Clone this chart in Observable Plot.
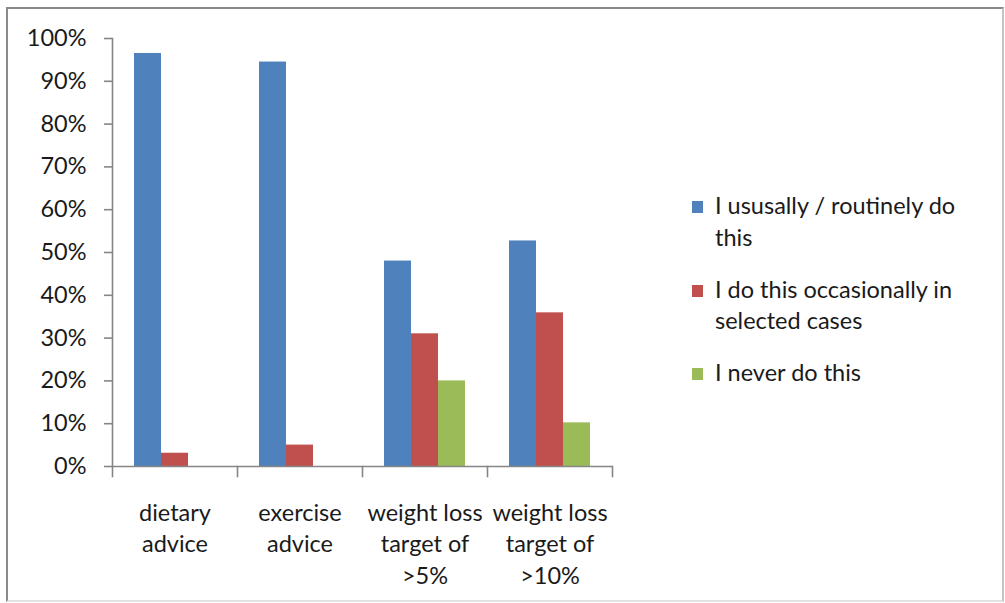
<!DOCTYPE html>
<html><head><meta charset="utf-8">
<script src="https://cdn.jsdelivr.net/npm/d3@7"></script>
<script src="https://cdn.jsdelivr.net/npm/@observablehq/plot@0.6"></script>
<style>
body{margin:0;background:#fff;font-family:Lato,sans-serif;}
#wrap{position:relative;width:1005px;height:603px;overflow:hidden;}
#border{position:absolute;left:6px;top:7px;width:998px;height:595px;box-sizing:border-box;border-top:2px solid #8a8a8a;border-left:2px solid #8a8a8a;border-right:2px solid #c4c4c4;border-bottom:2px solid #e2e2e2;}
#chart{position:absolute;left:0;top:0;}
#legend{position:absolute;left:692px;top:190px;width:300px;font-size:23.5px;line-height:31.5px;color:#1a1a1a;}
.item{display:flex;align-items:flex-start;margin-bottom:20.5px;}
.sw{width:11px;height:12px;margin-top:11px;margin-right:12px;flex:none;}
.lbl{width:280px;}
</style>
</head><body>
<div id="wrap"><div id="border"></div><div id="chart"></div><div id="legend"></div></div>
<script>
const categories = ["dietary advice", "exercise advice", "weight loss target of >5%", "weight loss target of >10%"];
const categoryLabels = ["dietary\nadvice", "exercise\nadvice", "weight loss\ntarget of\n>5%", "weight loss\ntarget of\n>10%"];
const series = ["I ususally / routinely do this", "I do this occasionally in selected cases", "I never do this"];
const usually = [96.5, 94.5, 48.0, 52.7];
const occasionally = [3.1, 5.0, 31.0, 35.9];
const never = [0, 0, 20.0, 10.2];
const yTicks = [0, 10, 20, 30, 40, 50, 60, 70, 80, 90, 100];
const colors = ["#4F81BD", "#C0504D", "#9BBB59"];

const values = [usually, occasionally, never];
const data = [];
categories.forEach((c, i) => series.forEach((s, j) => data.push({category: c, series: s, value: values[j][i]})));

const W = 660, H = 603, mT = 38, mB = 137, mL = 112, mR = 48;
const plotH = H - mT - mB;
const axisColor = "#868686";
const textColor = "#1a1a1a";

const chart = Plot.plot({
  width: W, height: H,
  marginTop: mT, marginBottom: mB, marginLeft: mL, marginRight: mR,
  style: {fontFamily: "Lato, sans-serif", fontSize: "23.5px", color: textColor, background: "transparent"},
  fx: {domain: categories, padding: 0},
  x: {domain: series, paddingInner: 0, paddingOuter: 0.773, axis: null},
  y: {domain: [0, 100], axis: null},
  color: {domain: series, range: colors},
  marks: [
    Plot.barY(data, {fx: "category", x: "series", y: "value", fill: "series"}),
    Plot.ruleY([0], {stroke: axisColor, strokeWidth: 1.6}),
    Plot.frame({anchor: "left", facetAnchor: "left", stroke: axisColor, strokeWidth: 1.6}),
    Plot.frame({anchor: "left", insetTop: plotH, insetBottom: -10, stroke: axisColor, strokeWidth: 1.6}),
    Plot.frame({anchor: "right", facetAnchor: "right", insetTop: plotH, insetBottom: -10, stroke: axisColor, strokeWidth: 1.6}),
    Plot.axisY({ticks: yTicks, tickFormat: d => d + "%", tickSize: 8, tickPadding: 18, stroke: axisColor, strokeWidth: 1.6, fill: textColor, label: null}),
    Plot.axisFx({anchor: "bottom", tickSize: 0, tickPadding: 32, lineHeight: 1.34, fill: textColor, label: null,
      tickFormat: d => categoryLabels[categories.indexOf(d)]})
  ]
});
document.getElementById("chart").appendChild(chart);

const legend = document.getElementById("legend");
series.forEach((s, i) => {
  const item = document.createElement("div");
  item.className = "item";
  const sw = document.createElement("div");
  sw.className = "sw";
  sw.style.background = colors[i];
  const lbl = document.createElement("div");
  lbl.className = "lbl";
  lbl.textContent = s;
  item.appendChild(sw); item.appendChild(lbl);
  legend.appendChild(item);
});
</script>
</body></html>
